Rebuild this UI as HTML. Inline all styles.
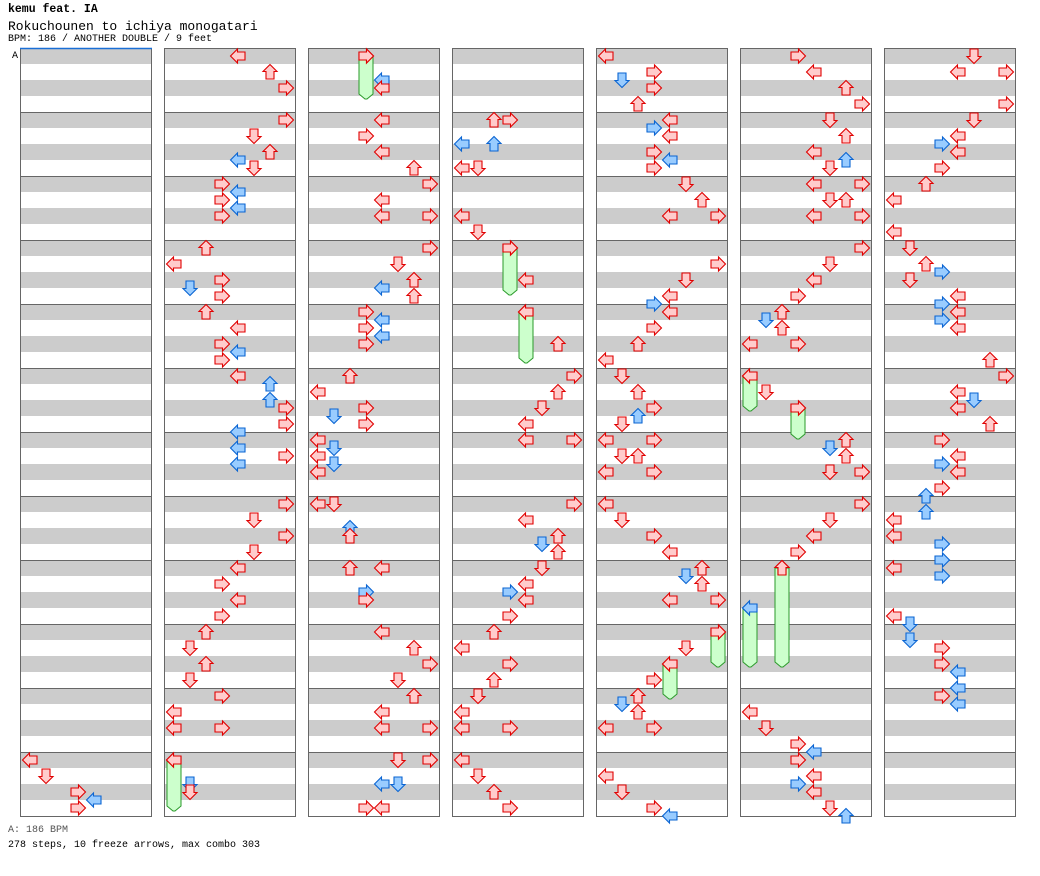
<!DOCTYPE html>
<html><head><meta charset="utf-8"><style>
body{margin:0;background:#fff;width:1040px;height:876px;overflow:hidden;font-family:"Liberation Mono",monospace;}
.t{position:absolute;left:8px;white-space:pre;color:#000}
</style></head><body>
<div class="t" style="top:3px;font-size:11.5px;font-weight:bold">kemu feat. IA</div>
<div class="t" style="top:19px;font-size:13px">Rokuchounen to ichiya monogatari</div>
<div class="t" style="top:34px;font-size:10px">BPM: 186 / ANOTHER DOUBLE / 9 feet</div>
<div class="t" style="top:825px;font-size:10px;color:#555">A: 186 BPM</div>
<div class="t" style="top:840px;font-size:10px">278 steps, 10 freeze arrows, max combo 303</div>
<svg id="c" width="1040" height="876" style="position:absolute;left:0;top:0"></svg>
<script>
// notes: [measure, beat, lane]
const notes=[
[11,0,0],[11,1,1],[11,2,3],[11,2.5,4],[11,3,3],
[12,0,4],[12,1,6],[12,2,7],
[13,0,7],[13,1,5],[13,2,6],[13,2.5,4],[13,3,5],
[14,0,3],[14,0.5,4],[14,1,3],[14,1.5,4],[14,2,3],
[15,0,2],[15,1,0],[15,2.5,1],[15,2,3],[15,3,3],
[16,0,2],[16,1,4],[16,2,3],[16,2.5,4],[16,3,3],
[17,0,4],[17,0.5,6],[17,1.5,6],[17,2,7],[17,3,7],[17,3.5,4],
[18,0.5,4],[18,1,7],[18,1.5,4],
[19,0,7],[19,1,5],[19,2,7],[19,3,5],
[20,0,4],[20,1,3],[20,2,4],[20,3,3],
[21,0,2],[21,1,1],[21,2,2],[21,3,1],
[22,0,3],[22,1,0],[22,2,0],[22,2,3],
[23,0,0],[23,1.5,1],[23,2,1],
[24,0,3],[24,1.5,4],[24,2,4],
[25,0,4],[25,1,3],[25,2,4],[25,3,6],
[26,0,7],[26,1,4],[26,2,4],[26,2,7],
[27,0,7],[27,1,5],[27,2,6],[27,2.5,4],[27,3,6],
[28,0,3],[28,0.5,4],[28,1,3],[28,1.5,4],[28,2,3],
[29,0,2],[29,1,0],[29,2.5,1],[29,2,3],[29,3,3],
[30,0,0],[30,0.5,1],[30,1,0],[30,1.5,1],[30,2,0],
[31,0,0],[31,0,1],[31,1.5,2],[31,2,2],
[32,0,2],[32,0,4],[32,1.5,3],[32,2,3],
[33,0,4],[33,1,6],[33,2,7],[33,3,5],
[34,0,6],[34,1,4],[34,2,4],[34,2,7],
[35,0,5],[35,0,7],[35,1.5,4],[35,1.5,5],[35,3,3],[35,3,4],
[37,0,2],[37,0,3],[37,1.5,0],[37,1.5,2],[37,3,0],[37,3,1],
[38,2,0],[38,3,1],
[39,0,3],[39,2,4],
[40,0,4],[40,2,6],
[41,0,7],[41,1,6],[41,2,5],[41,3,4],
[42,0,4],[42,0,7],
[43,0,7],[43,1,4],[43,2,6],[43,2.5,5],[43,3,6],
[44,0,5],[44,1,4],[44,1.5,3],[44,2,4],[44,3,3],
[45,0,2],[45,1,0],[45,2,3],[45,3,2],
[46,0,1],[46,1,0],[46,2,0],[46,2,3],
[47,0,0],[47,1,1],[47,2,2],[47,3,3],
[48,0,0],[48,1,3],[48,1.5,1],[48,2,3],[48,3,2],
[49,0,4],[49,0.5,3],[49,1,4],[49,2,3],[49,2.5,4],[49,3,3],
[50,0,5],[50,1,6],[50,2,7],[50,2,4],
[51,1,7],[51,2,5],[51,3,4],[51,3.5,3],
[52,0,4],[52,1,3],[52,2,2],[52,3,0],
[53,0,1],[53,1,2],[53,2,3],[53,2.5,2],[53,3,1],
[54,0,0],[54,0,3],[54,1,1],[54,1,2],[54,2,0],[54,2,3],
[55,0,0],[55,1,1],[55,2,3],[55,3,4],
[56,0,6],[56,0.5,5],[56,1,6],[56,2,4],[56,2,7],
[57,0,7],[57,1,5],[57,2,4],[57,3,3],
[58,0,2],[58,0.5,1],[58,1,2],[58,2,0],[58,2,3],
[59,1,0],[59,2,1],[59,3,3],[59,3.5,4],
[60,0,3],[60,1,4],[60,2,6],[60,3,7],
[61,0,5],[61,1,6],[61,2,4],[61,2.5,6],[61,3,5],
[62,0,4],[62,0,7],[62,1,5],[62,1,6],[62,2,4],[62,2,7],
[63,0,7],[63,1,5],[63,2,4],[63,3,3],
[64,0,2],[64,0.5,1],[64,1,2],[64,2,0],[64,2,3],
[65,0,0],[65,1,1],[65,2,3],
[66,0,6],[66,0.5,5],[66,1,6],[66,2,5],[66,2,7],
[67,0,7],[67,1,5],[67,2,4],[67,3,3],
[68,0,2],[68,2.5,0],
[70,1,0],[70,2,1],[70,3,3],[70,3.5,4],
[71,0,3],[71,1,4],[71,1.5,3],[71,2,4],[71,3,5],[71,3.5,6],
[72,0,5],[72,1,4],[72,1,7],[72,3,7],
[73,0,5],[73,1,4],[73,1.5,3],[73,2,4],[73,3,3],
[74,0,2],[74,1,0],[74,3,0],
[75,0,1],[75,1,2],[75,1.5,3],[75,2,1],[75,3,4],[75,3.5,3],
[76,0,4],[76,0.5,3],[76,1,4],[76,3,6],
[77,0,7],[77,1,4],[77,1.5,5],[77,2,4],[77,3,6],
[78,0,3],[78,1,4],[78,1.5,3],[78,2,4],[78,3,3],[78,3.5,2],
[79,0.5,2],[79,1,0],[79,2,0],[79,2.5,3],[79,3.5,3],
[80,0,0],[80,0.5,3],[80,3,0],[80,3.5,1],
[81,0.5,1],[81,1,3],[81,2,3],[81,2.5,4],[81,3.5,4],
[82,0,3],[82,0.5,4]
];
// freezes: [measure, startBeat, endMeasure, endBeat, lane]
const freezes=[
[23,0,23,2.5,0],[24,0,24,2,3],[39,0,39,2.25,3],[40,0,40,2.5,4],
[57,0,57,1.5,7],[57,2,57,3.5,4],[65,0,65,1.5,0],[65,2,65,3.25,3],
[68,0,69,1.5,2],[68,2.5,69,1.5,0]
];
const NS='http://www.w3.org/2000/svg';
const svg=document.getElementById('c');
const COLS=7, ROWS=12;
function colX(m){return 20+Math.floor(m/ROWS)*144;}
function rowY(m){return 48+(m%ROWS)*64;}
function laneX(m,l){return colX(m)+10+l*16;}
function beatY(m,b){return rowY(m)+8+b*16;}
function mk(tag,attrs){const e=document.createElementNS(NS,tag);for(const k in attrs)e.setAttribute(k,attrs[k]);svg.appendChild(e);return e;}
for(let m=0;m<COLS*ROWS;m++){
  const x=colX(m),y=rowY(m);
  for(let s=0;s<4;s+=2){
    const r=mk('rect',{x:x,y:y+s*16,width:132,height:16,fill:'#cccccc'});
    
    
  }
  const b=mk('rect',{x:x+0.5,y:y+0.5,width:131,height:64,fill:'none',stroke:'#666','stroke-width':1});
  
  
}
const ln=mk('line',{x1:20,y1:48.5,x2:152,y2:48.5,stroke:'#1a6fd6','stroke-width':1.5});


const lt=mk('text',{x:12,y:58,'font-size':10,'font-family':'Liberation Mono, monospace',fill:'#000'});
lt.textContent='A';


freezes.forEach(f=>{
  const x=laneX(f[0],f[4]),y1=beatY(f[0],f[1]),y2=beatY(f[2],f[3])+6;
  const p=mk('path',{d:`M${x-7},${y1} L${x+7},${y1} L${x+7},${y2} L${x+1},${y2+5} L${x-1},${y2+5} L${x-7},${y2} Z`,fill:'#ccffcc',stroke:'#2a9a2a','stroke-width':1});
  
  
});
const ROT=[0,-90,90,180];
function arrow(m,b,l){
  const blue=(b%1)!==0;
  const x=laneX(m,l),y=beatY(m,b);
  const g=mk('path',{d:'M-7.5,0 L-0.5,-7 L-0.5,-4 L7,-4 L7,4 L-0.5,4 L-0.5,7 Z',transform:`translate(${x},${y}) rotate(${ROT[l%4]})`,fill:blue?'#99ccff':'#ffcccc',stroke:blue?'#0a64d2':'#e00000','stroke-width':1.1});
  
  
}
freezes.forEach(f=>arrow(f[0],f[1],f[4]));
notes.forEach(n=>arrow(n[0],n[1],n[2]));
</script>
</body></html>
